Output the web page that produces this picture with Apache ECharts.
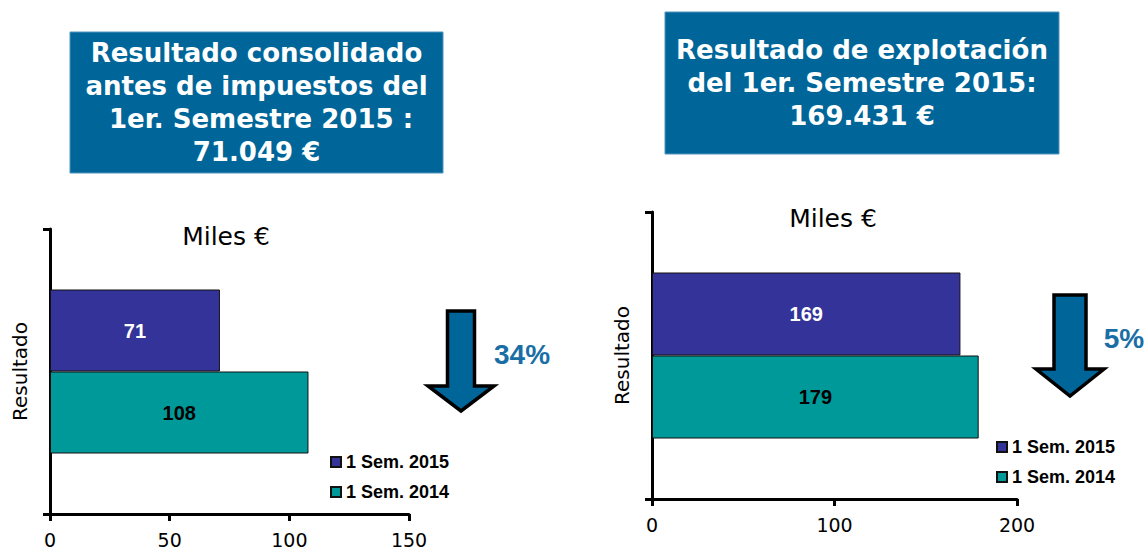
<!DOCTYPE html>
<html>
<head>
<meta charset="utf-8">
<script src="https://cdn.jsdelivr.net/npm/echarts@6/dist/echarts.min.js"></script>
<style>
  html, body { margin: 0; padding: 0; background: #fff; }
  #chart { width: 1146px; height: 549px; }
</style>
</head>
<body>
<div id="chart"></div>
<script>
// datos
const categories = ['Resultado']
const seriesNames = ['1 Sem. 2015', '1 Sem. 2014']
const antesImpuestos = [71, 108]   // 2015, 2014 (miles €)
const explotacion = [169, 179]     // 2015, 2014 (miles €)
const variaciones = ['34%', '5%']
const titulos = [
  'Resultado consolidado\nantes de impuestos del\n 1er. Semestre 2015 :\n71.049 €',
  'Resultado de explotación\ndel 1er. Semestre 2015:\n169.431 €',
]
const unidad = 'Miles €'

const colores = ['#333399', '#009999']
const labelColores = ['#ffffff', '#000000']

const chart = echarts.init(document.getElementById('chart'), null, { renderer: 'svg' })

const axisLine = { lineStyle: { color: '#000', width: 3 } }
const axisTick = { length: 7, lineStyle: { color: '#000', width: 3 } }

const xAxisBase = (gridIndex, max, interval) => ({
  type: 'value',
  gridIndex,
  min: 0,
  max,
  interval,
  axisLine: { show: true, ...axisLine },
  axisTick: { show: true, ...axisTick },
  splitLine: { show: false },
  axisLabel: {
    color: '#000',
    fontFamily: 'DejaVu Sans',
    fontSize: 19,
    margin: 16,
  },
})

const yAxisBase = (gridIndex, margin) => ({
  type: 'category',
  gridIndex,
  data: categories,
  inverse: true,
  axisLine: { show: true, ...axisLine },
  axisTick: { show: true, ...axisTick },
  axisLabel: {
    rotate: 90,
    color: '#000',
    fontFamily: 'DejaVu Sans',
    fontSize: 20,
    margin,
  },
})

const barSeries = (values, axisIndex, barWidth) =>
  seriesNames.map((name, i) => ({
    name,
    type: 'bar',
    xAxisIndex: axisIndex,
    yAxisIndex: axisIndex,
    barWidth,
    barGap: '0%',
    data: [values[i]],
    itemStyle: { color: colores[i], borderColor: '#111', borderWidth: 1 },
    label: {
      show: true,
      position: 'inside',
      color: labelColores[i],
      fontFamily: 'Liberation Sans',
      fontWeight: 'bold',
      fontSize: 20,
    },
  }))

const legendBase = (left, top) => ({
  data: seriesNames,
  orient: 'vertical',
  left,
  top,
  padding: 0,
  itemWidth: 10,
  itemHeight: 10,
  itemGap: 12,
  icon: 'rect',
  selectedMode: false,
  textStyle: {
    color: '#000',
    fontFamily: 'Liberation Sans',
    fontWeight: 'bold',
    fontSize: 18,
  },
})

// flecha hacia abajo
const flecha = (cx, top, shaftW, headW, headY, tipY) => ({
  type: 'polygon',
  shape: {
    points: [
      [cx - shaftW / 2, top],
      [cx + shaftW / 2, top],
      [cx + shaftW / 2, headY],
      [cx + headW / 2, headY],
      [cx, tipY],
      [cx - headW / 2, headY],
      [cx - shaftW / 2, headY],
    ],
  },
  style: { fill: '#006699', stroke: '#000', lineWidth: 3.5, lineJoin: 'miter' },
})

const cajaTitulo = (x, y, w, h, text) => ([
  {
    type: 'rect',
    shape: { x, y, width: w, height: h },
    style: { fill: '#006699', stroke: '#4f94bf', lineWidth: 1 },
  },
  {
    type: 'text',
    x: x + w / 2,
    y: y + h / 2,
    style: {
      text,
      fill: '#fff',
      font: 'bold 26px "DejaVu Sans"',
      lineHeight: 33,
      align: 'center',
      verticalAlign: 'middle',
    },
  },
])

const textoPlano = (x, y, text, font, fill) => ({
  type: 'text',
  x,
  y,
  style: { text, font, fill, align: 'center', verticalAlign: 'middle' },
})

chart.setOption({
  animation: false,
  grid: [
    { left: 50, top: 229, width: 359, height: 285 },
    { left: 652, top: 212, width: 365, height: 287 },
  ],
  xAxis: [xAxisBase(0, 150, 50), xAxisBase(1, 200, 100)],
  yAxis: [yAxisBase(0, 20), yAxisBase(1, 20)],
  legend: [legendBase(330, 453), legendBase(996, 438)],
  series: [...barSeries(antesImpuestos, 0, 82), ...barSeries(explotacion, 1, 83)],
  graphic: [
    ...cajaTitulo(70, 32, 373, 141, titulos[0]),
    ...cajaTitulo(665, 12, 394, 142, titulos[1]),
    textoPlano(226, 236, unidad, '25px "DejaVu Sans"', '#000'),
    textoPlano(833, 218, unidad, '25px "DejaVu Sans"', '#000'),
    flecha(461, 311, 27, 66, 386, 411),
    flecha(1070, 295, 32, 68, 369, 396),
    textoPlano(522, 354, variaciones[0], 'bold 28px "Liberation Sans"', '#1a6ea6'),
    textoPlano(1124, 338, variaciones[1], 'bold 28px "Liberation Sans"', '#1a6ea6'),
  ],
})
</script>
</body>
</html>
